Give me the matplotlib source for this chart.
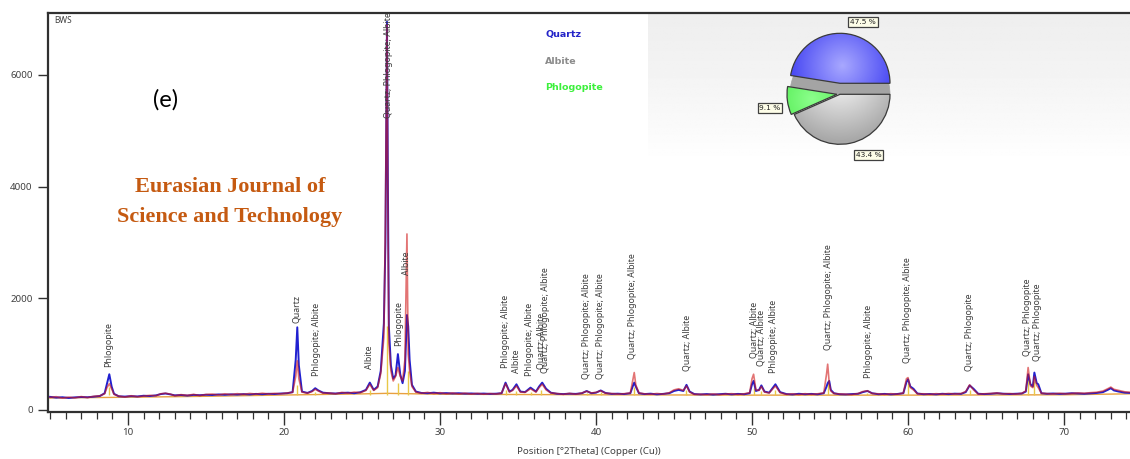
import numpy as np
import matplotlib
matplotlib.use("Agg")
import matplotlib.pyplot as plt
from matplotlib.patches import Wedge
from matplotlib.colors import LinearSegmentedColormap
from matplotlib.ticker import MultipleLocator

# ---------------- data ----------------
two_theta = [
    5.0, 5.4, 5.8, 6.2, 6.6, 7.0, 7.4, 7.8, 8.2,
    8.5, 8.65, 8.8, 8.95, 9.1,
    9.4, 9.8, 10.2, 10.6, 11.0, 11.4, 11.8,
    12.1, 12.4, 12.7,
    13.0, 13.4, 13.8, 14.2, 14.6, 15.0, 15.4, 15.8, 16.2, 16.6, 17.0, 17.4, 17.8, 18.2, 18.6, 19.0, 19.4, 19.8, 20.2,
    20.55, 20.75, 20.85, 20.95, 21.15,
    21.5, 21.8, 22.0, 22.2, 22.5,
    22.9, 23.3, 23.7, 24.1, 24.5, 24.9,
    25.25, 25.5, 25.75,
    26.0, 26.2, 26.4, 26.5, 26.6, 26.66, 26.72, 26.85, 27.0, 27.15, 27.3, 27.45, 27.6, 27.75, 27.88, 27.96, 28.05, 28.2, 28.45,
    28.8, 29.2, 29.6, 30.0, 30.4, 30.8, 31.2, 31.6, 32.0, 32.4, 32.8, 33.2, 33.6, 33.95,
    34.2, 34.45, 34.65, 34.9, 35.15, 35.45, 35.8, 36.15, 36.35, 36.55, 36.8, 37.1,
    37.5, 37.9, 38.3, 38.7, 39.1, 39.4, 39.7, 40.0, 40.3, 40.6, 41.0, 41.4, 41.8, 42.2,
    42.35, 42.45, 42.55, 42.75,
    43.1, 43.5, 43.9, 44.3, 44.7, 45.0, 45.3, 45.6, 45.8, 46.0, 46.3,
    46.7, 47.1, 47.5, 47.9, 48.3, 48.7, 49.1, 49.5, 49.85,
    50.0, 50.1, 50.25, 50.45, 50.6, 50.8, 51.1, 51.5, 51.8,
    52.2, 52.6, 53.0, 53.4, 53.8, 54.2, 54.6,
    54.78, 54.85, 54.95, 55.05, 55.25,
    55.6, 56.0, 56.4, 56.8, 57.1, 57.4, 57.7, 58.1, 58.5, 58.9, 59.3, 59.7,
    59.9, 60.0, 60.15, 60.35, 60.6,
    61.0, 61.4, 61.8, 62.2, 62.6, 63.0, 63.4, 63.7, 63.95, 64.2, 64.5,
    64.9, 65.3, 65.7, 66.1, 66.5, 66.9, 67.3, 67.55,
    67.7, 67.85, 68.0, 68.1, 68.25, 68.35, 68.55,
    68.9, 69.3, 69.7, 70.1, 70.5, 70.9, 71.3, 71.7, 72.1, 72.5, 72.8, 73.0, 73.2, 73.5, 73.9, 74.3,
]

blue_counts = [
    235, 222, 228, 215, 226, 232, 228, 238, 250,
    300, 470, 640, 420, 290,
    245, 240, 248, 242, 255, 250, 262,
    285, 295, 280,
    262, 268, 258, 270, 265, 272, 268, 278, 272, 280, 276, 284, 278, 288, 282, 290, 286, 295, 300,
    320, 900, 1480, 800, 330,
    305, 340, 390, 350, 310,
    300, 295, 305, 310, 300, 318,
    360, 490, 360,
    420, 700, 1550, 3000, 6950, 4000, 1500, 800, 560, 620, 1000, 640, 480, 700, 1700, 1500, 900, 450, 330,
    305, 300, 310, 298, 302, 295, 300, 292, 296, 290, 294, 288, 292, 300,
    490, 330, 360, 460, 330, 320, 400, 330, 420, 490, 380, 310,
    290, 285, 292, 288, 300, 340, 300, 310, 350, 305, 288, 292, 285, 300,
    420, 490, 420, 300,
    285, 292, 280, 288, 300, 340, 360, 340, 450, 330, 285,
    278, 285, 275, 282, 290, 280, 288, 282, 300,
    460, 520, 340, 360, 440, 330, 310, 460, 320,
    285, 278, 290, 282, 288, 280, 300,
    420, 480, 520, 360, 300,
    282, 278, 285, 290, 320, 340, 300, 282, 288, 280, 286, 300,
    500, 550, 420, 380, 295,
    282, 286, 280, 290, 284, 292, 288, 320, 440, 380, 290,
    285, 290, 300, 292, 286, 290, 295, 330,
    640, 460, 420, 670, 480, 460, 300,
    290, 295, 288, 292, 300, 295, 290, 298, 305, 320, 360, 390, 350, 330, 310, 305,
]

red_counts = [
    225, 238, 212, 230, 218, 240, 222, 245, 255,
    290, 400, 470, 380, 280,
    250, 232, 255, 238, 248, 262, 255,
    290, 300, 285,
    255, 275, 262, 280, 258, 278, 285, 270, 290, 276, 292, 280, 296, 285, 300, 288, 298, 290, 305,
    315, 600, 880, 560, 320,
    300, 330, 370, 340, 300,
    305, 290, 315, 300, 320, 310,
    350, 460, 350,
    400, 650, 1300, 3400, 6900, 3400, 1200, 700, 520, 600, 760, 600, 520, 900, 3150, 1000, 700, 420, 320,
    300, 315, 295, 310, 290, 305, 288, 302, 285, 298, 282, 295, 286, 305,
    470, 320, 350, 430, 320, 315, 380, 320, 400, 460, 360, 305,
    295, 280, 298, 282, 305, 335, 305, 315, 345, 300, 295, 285, 292, 305,
    520, 670, 450, 305,
    290, 282, 295, 285, 310, 360, 380, 350, 430, 320, 280,
    282, 275, 288, 276, 285, 292, 278, 290, 310,
    560, 640, 360, 350, 420, 320, 305, 430, 310,
    280, 290, 276, 292, 280, 290, 305,
    650, 820, 480, 340, 295,
    288, 284, 276, 295, 330, 345, 295, 290, 280, 292, 282, 305,
    560, 580, 400, 360, 290,
    290, 280, 292, 284, 296, 286, 295, 330, 450, 360, 285,
    290, 296, 305, 288, 295, 284, 300, 340,
    760, 430, 400, 600, 440, 400, 300,
    295, 288, 300, 290, 296, 305, 300, 310, 318, 340, 380, 410, 370, 350, 325, 315,
]

background_theta = [5, 10, 15, 20, 25, 26.6, 30, 40, 50, 60, 70, 74.3]
background_counts = [215, 228, 245, 268, 288, 298, 282, 272, 266, 266, 272, 290]

stick_theta = [8.8, 20.85, 22.0, 25.5, 26.62, 27.3, 27.95, 34.2, 34.9, 35.8, 36.5,
               39.4, 40.3, 42.45, 45.8, 50.1, 50.6, 51.5, 54.85, 57.4, 60.0, 63.95,
               67.7, 68.1]
stick_counts = [420, 450, 330, 360, 1500, 480, 700, 360, 340, 330, 360,
                310, 320, 420, 360, 400, 340, 350, 520, 310, 480, 360,
                600, 520]

label_theta = [8.78, 20.83, 22.05, 25.5, 26.67, 27.37, 27.88, 34.17, 34.9, 35.75,
               36.45, 36.75, 39.42, 40.28, 42.37, 45.82, 50.1, 50.58, 51.35,
               54.88, 57.44, 59.94, 63.93, 67.63, 68.27]
label_bottom = [773, 1563, 611, 737, 5229, 1150, 2408, 755, 665, 611,
                737, 665, 557, 557, 916, 701, 934, 791, 665,
                1078, 575, 845, 701, 970, 880]
label_text = ["Phlogopite", "Quartz", "Phlogopite; Albite", "Albite",
              "Quartz; Phlogopite; Albite", "Phlogopite", "Albite",
              "Phlogopite; Albite", "Albite", "Phlogopite; Albite",
              "Quartz; Albite", "Quartz; Phlogopite; Albite",
              "Quartz; Phlogopite; Albite", "Quartz; Phlogopite; Albite",
              "Quartz; Phlogopite; Albite", "Quartz; Albite", "Quartz; Albite",
              "Quartz; Albite", "Phlogopite; Albite", "Quartz; Phlogopite; Albite",
              "Phlogopite; Albite", "Quartz; Phlogopite; Albite",
              "Quartz; Phlogopite", "Quartz; Phlogopite", "Quartz; Phlogopite"]

phases = ["Quartz", "Albite", "Phlogopite"]
phase_percent = [47.5, 43.4, 9.1]
phase_text_colors = ["#2424c8", "#8c8c8c", "#3cf03c"]

x_ticks = [10, 20, 30, 40, 50, 60, 70]
y_ticks = [0, 2000, 4000, 6000]

assert len(two_theta) == len(blue_counts) == len(red_counts)

# ---------------- figure ----------------
W, H = 1130, 459
fig = plt.figure(figsize=(W / 100, H / 100), dpi=100)


def fx(px):
    return px / W


def fy(py):
    return 1 - py / H


# light panel behind the pie chart
panel = fig.add_axes([fx(648), fy(163), fx(1130) - fx(648), fy(14) - fy(163)], zorder=0)
gy = np.linspace(0, 1, 120)[:, None] * np.ones((1, 50))
shade = 0.935 + 0.065 * gy ** 1.3
panel.imshow(np.clip(shade, 0, 1), cmap="gray", vmin=0, vmax=1, aspect="auto",
             extent=[0, 1, 0, 1], origin="upper")
panel.axis("off")

# main axes
ax = fig.add_axes([fx(48), fy(411.5), 1 - fx(48), fy(13.3) - fy(411.5)], zorder=1)
ax.patch.set_alpha(0)
ax.set_xlim(4.87, 74.23)
ax.set_ylim(-27, 7100)

ax.plot(background_theta, background_counts, color="#e8a040", lw=1.0, zorder=2)
ax.vlines(stick_theta, [272] * len(stick_theta), stick_counts, color="#e8c848", lw=1.0, zorder=2)
ax.plot(two_theta, blue_counts, color="#2020d0", lw=1.4, zorder=3)
ax.plot(two_theta, red_counts, color="#d01818", lw=1.2, alpha=0.6, zorder=4)

for t, b, s in zip(label_theta, label_bottom, label_text):
    ax.text(t, b, s, rotation=90, ha="center", va="bottom", fontsize=6.3,
            color="#3c3c3c", family="Noto Sans", zorder=5, clip_on=True)

for side in ["left", "bottom", "top"]:
    ax.spines[side].set_color("#303030")
    ax.spines[side].set_linewidth(1.6)
ax.spines["right"].set_visible(False)

ax.set_xticks(x_ticks)
ax.set_yticks(y_ticks)
ax.xaxis.set_minor_locator(MultipleLocator(1))
ax.tick_params(axis="x", which="major", length=9, width=1.0, color="#303030",
               labelsize=7, labelcolor="#404040", pad=3)
ax.tick_params(axis="x", which="minor", length=5, width=0.9, color="#303030")
ax.tick_params(axis="y", which="major", length=7, width=1.0, color="#303030",
               labelsize=7, labelcolor="#404040", pad=4)
for lab in ax.get_xticklabels() + ax.get_yticklabels():
    lab.set_family("Noto Sans")
ax.set_xlabel("Position [°2Theta] (Copper (Cu))", fontsize=7, color="#404040",
              family="Noto Sans", labelpad=7)

# annotations
ax.text(0.006, 0.992, "BWS", transform=ax.transAxes, ha="left", va="top",
        fontsize=6, color="#404040", family="Noto Sans")
fig.text(fx(166), fy(100), "(e)", ha="center", va="center", fontsize=17,
         color="black", family="Lato")
fig.text(fx(230), fy(187), "Eurasian Journal of", ha="center", va="center",
         fontsize=16, color="#c55a11", family="Liberation Serif", weight="bold")
fig.text(fx(230), fy(217), "Science and Technology", ha="center", va="center",
         fontsize=16, color="#c55a11", family="Liberation Serif", weight="bold")

legend_y = [35, 61.5, 87]
for name, col, py in zip(phases, phase_text_colors, legend_y):
    fig.text(fx(545), fy(py), name, ha="left", va="center", fontsize=6.8,
             color=col, weight="bold", family="DejaVu Sans", zorder=6)

# ---------------- pie (3D-like) ----------------
cx, cy, half = 840, 94.3, 110
pie = fig.add_axes([fx(cx - half), fy(cy + half), 2 * half / W, 2 * half / H], zorder=3)
pie.set_xlim(-2.2, 2.2)
pie.set_ylim(-2.2, 2.2)
pie.set_aspect("equal")
pie.axis("off")

q_span = phase_percent[0] * 3.6
p_span = phase_percent[2] * 3.6
q_start, q_end = 0, q_span
p_start, p_end = q_end, q_end + p_span
a_start, a_end = p_end, 360

lift = 0.22
# side (thickness) of the lifted quartz slice
side = Wedge((0, 0), 1.0, q_start, q_end, facecolor="#a4a4a4", edgecolor="#a4a4a4", lw=0.5)
pie.add_patch(side)

yy, xx = np.mgrid[-1.3:1.3:300j, -1.3:1.3:300j]


def shaded_wedge(center, r, t1, t2, c_light, c_dark, hx, hy):
    w = Wedge(center, r, t1, t2, facecolor="none", edgecolor="#3a3a3a", lw=0.9, zorder=3)
    pie.add_patch(w)
    d = np.sqrt((xx - hx) ** 2 + (yy - hy) ** 2)
    cmap = LinearSegmentedColormap.from_list("g", [c_light, c_dark])
    im = pie.imshow(d, cmap=cmap, vmin=0, vmax=1.3, origin="lower",
                    extent=[center[0] - 1.3, center[0] + 1.3, center[1] - 1.3, center[1] + 1.3],
                    zorder=2, interpolation="bilinear")
    im.set_clip_path(w)


shaded_wedge((0, -0.0), 1.0, a_start, a_end, "#fbfbfb", "#a8a8a8", 0.0, 0.35)
shaded_wedge((-0.06, 0.0), 1.0, p_start, p_end, "#8cff8c", "#2ee02e", -0.5, -0.1)
shaded_wedge((0, lift), 1.0, q_start, q_end, "#a8a8ff", "#3030f0", 0.05, 0.35)

pct_pos = [(0.46, 1.45), (-1.4, -0.28), (0.57, -1.21)]
pct_vals = [phase_percent[0], phase_percent[2], phase_percent[1]]
for (px_, py_), v in zip(pct_pos, pct_vals):
    pie.text(px_, py_, f"{v:.1f} %", ha="center", va="center", fontsize=5.3,
             color="#202020", family="DejaVu Sans", zorder=6,
             bbox=dict(boxstyle="square,pad=0.25", facecolor="#fdfde8",
                       edgecolor="#404040", lw=0.9))

fig.savefig("out.png", dpi=100)
